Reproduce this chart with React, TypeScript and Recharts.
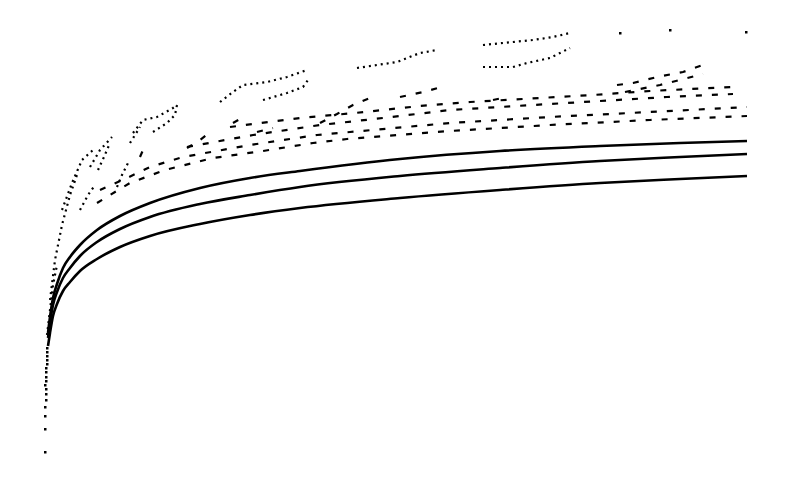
import { ComposedChart, Line, Scatter, XAxis, YAxis } from "recharts";

// x: horizontal position units (0..710), y: height units (0..440)
const xs = [8, 10, 13, 17, 23, 30, 40, 57, 80, 110, 160, 210, 260, 360, 460, 560, 640, 707];
const lowCurve = [114, 127, 144, 156, 169, 178, 189, 201, 213, 224, 236, 245, 252, 262, 270, 277, 281, 284];
const midCurve = [122, 137, 155, 168, 182, 192, 204, 218, 231, 243, 256, 265, 273, 284, 292, 299, 303, 306];
const highCurve = [127, 143, 162, 176, 192, 203, 215, 230, 244, 257, 272, 282, 289, 301, 309, 314, 317, 319];

const rowA = [[57, 257], [75, 268], [90, 277], [125, 290], [173, 302], [223, 309], [273, 317], [307, 321], [410, 329], [510, 335], [610, 340], [707, 344]];
const rowB = [[60, 270], [87, 282], [110, 293], [143, 303], [210, 315], [277, 325], [310, 328], [410, 337], [510, 343], [610, 348], [707, 353]];
const rowC = [[147, 313], [213, 325], [280, 335], [343, 342], [410, 350], [493, 355], [560, 359], [627, 363], [693, 366]];
const rowD = [[190, 333], [260, 342], [315, 347], [380, 354], [430, 358], [500, 362], [553, 365], [610, 369], [693, 373]];

const segE1 = [[280, 337], [297, 346], [313, 355], [330, 362]];
const segE3 = [[360, 363], [383, 368], [398, 372]];
const segE4 = [[577, 375], [593, 377], [617, 383], [643, 388], [663, 395]];
const segE5 = [[585, 368], [620, 375], [663, 386]];
const segE6 = [[453, 360], [467, 363]];
const segS1 = [[147, 312], [160, 320], [170, 328]];
const segS2 = [[193, 337], [202, 342]];
const segS3 = [[217, 328], [233, 332]];
const segS4 = [[100, 303], [103, 310]];

const loop1a = [[93, 327], [103, 340], [117, 343], [133, 352], [137, 355]];
const loop1b = [[113, 328], [127, 337], [135, 345], [137, 355]];
const loop2a = [[180, 358], [193, 368], [203, 375], [227, 378], [247, 383], [267, 390]];
const loop2b = [[223, 360], [247, 367], [263, 373], [268, 380]];
const loop3a = [[317, 392], [337, 395], [357, 398], [380, 407], [397, 410]];
const loop4a = [[443, 415], [473, 418], [493, 420], [513, 423], [530, 427]];
const loop4b = [[443, 393], [473, 393], [487, 397], [510, 402], [530, 412]];

const steep0 = [[7, 125], [10, 150], [13, 175], [17, 195]];
const steep1 = [[10, 160], [15, 200], [22, 235], [30, 265], [38, 288]];
const steep2 = [[22, 250], [32, 277], [42, 300], [53, 310]];
const steep3 = [[40, 250], [48, 265], [55, 275]];
const steep4 = [[50, 293], [60, 310], [72, 323]];
const steep5 = [[58, 290], [64, 303], [70, 317]];
const steep6 = [[77, 273], [82, 285], [88, 297]];
const steep7 = [[90, 317], [95, 325], [100, 333]];

const topDots = [[580, 427], [630, 430], [706, 428]];
const stubDots = [[5, 8], [5, 31], [5, 44], [5, 53], [6, 60], [6, 66], [6, 71], [5, 75], [6, 79], [6, 83], [6, 88], [6, 92], [7, 96], [7, 100], [7, 104], [7, 108], [7, 112]];

const pts = (a: number[][]) => a.map(([x, y]) => ({ x, y }));
const curve = (ys: number[]) => xs.map((x, i) => ({ x, y: ys[i] }));

const dashRows = [rowA, rowB, rowC, rowD, segE1, segE3, segE4, segE5, segE6, segS1, segS2, segS3, segS4];
const dotRows = [loop1a, loop1b, loop2a, loop2b, loop3a, loop4a, loop4b, steep0, steep1, steep2, steep3, steep4, steep5, steep6, steep7];

const Dot = (p: any) => <rect x={p.cx - 1} y={p.cy - 1} width={2.5} height={2.5} fill="#000" />;

export default function App() {
  return (
    <div style={{ position: "absolute", left: 0, top: 0, background: "#fff" }}>
      <ComposedChart width={792} height={482} margin={{ top: 20, right: 42, bottom: 22, left: 40 }}>
        <XAxis type="number" dataKey="x" domain={[0, 710]} hide />
        <YAxis type="number" dataKey="y" domain={[0, 440]} hide />
        {[lowCurve, midCurve, highCurve].map((c, i) => (
          <Line key={"c" + i} data={curve(c)} dataKey="y" type="monotone" stroke="#000" strokeWidth={2.6} dot={false} isAnimationActive={false} />
        ))}
        {dashRows.map((r, i) => (
          <Line key={"d" + i} data={pts(r)} dataKey="y" type="linear" stroke="#000" strokeWidth={2.2} strokeDasharray="6 10" dot={false} isAnimationActive={false} />
        ))}
        {dotRows.map((r, i) => (
          <Line key={"p" + i} data={pts(r)} dataKey="y" type="linear" stroke="#000" strokeWidth={2.2} strokeDasharray="2 4" dot={false} isAnimationActive={false} />
        ))}
        <Scatter data={pts(topDots)} dataKey="y" shape={Dot} isAnimationActive={false} />
        <Scatter data={pts(stubDots)} dataKey="y" shape={Dot} isAnimationActive={false} />
      </ComposedChart>
    </div>
  );
}
